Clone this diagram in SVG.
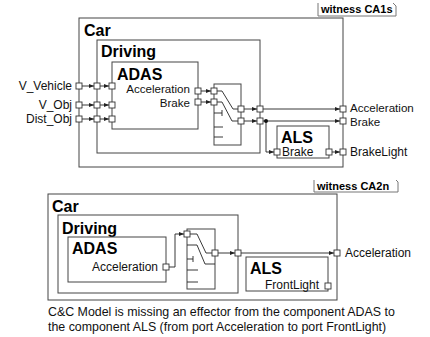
<svg xmlns="http://www.w3.org/2000/svg" width="430" height="337" viewBox="0 0 430 337">
<style>
.box{fill:none;stroke:#444;stroke-width:1}
.port{fill:#fff;stroke:#333;stroke-width:0.9}
.tag{fill:none;stroke:#777;stroke-width:1}
.title{font-family:"Liberation Sans",Arial,sans-serif;font-weight:bold;font-size:16px;fill:#000}
.wt{font-family:"Liberation Sans",Arial,sans-serif;font-weight:bold;font-size:11px;fill:#000}
.lbl{font-family:"Liberation Sans",Arial,sans-serif;font-size:12px;fill:#111}
.sm{font-size:11.6px}
.end{text-anchor:end}
.cap{font-family:"Liberation Sans",Arial,sans-serif;font-size:12.4px;fill:#111}
.wire{fill:none;stroke:#222;stroke-width:0.9}
.arr{marker-end:url(#ah)}
</style>
<defs>
<marker id="ah" markerWidth="5" markerHeight="4" refX="5" refY="2" orient="auto" markerUnits="userSpaceOnUse"><path d="M0,0 L5,2 L0,4 z" fill="#222"/></marker>
</defs>
<rect width="430" height="337" fill="#fff"/>

<g id="witness1">
<path class="tag" d="M318,3 V16 H396 V6 L393,3"/>
<text class="wt" x="321" y="13">witness CA1s</text>
</g>

<g id="car1">
<rect class="box" x="79" y="18" width="264" height="149"/>
<text class="title" x="84" y="36">Car</text>
<text class="lbl end" x="72" y="90">V_Vehicle</text>
<text class="lbl end" x="72" y="109">V_Obj</text>
<text class="lbl end" x="72" y="123">Dist_Obj</text>
<text class="lbl sm" x="350" y="112">Acceleration</text>
<text class="lbl sm" x="350" y="125.5">Brake</text>
<text class="lbl" x="350" y="156">BrakeLight</text>
</g>

<g id="driving1">
<rect class="box" x="97" y="40" width="163" height="113"/>
<text class="title" x="101" y="57">Driving</text>
</g>

<g id="adas1">
<rect class="box" x="112" y="62" width="86" height="67"/>
<text class="title" x="117" y="80">ADAS</text>
<text class="lbl sm end" x="190" y="93">Acceleration</text>
<text class="lbl sm end" x="190" y="106.5">Brake</text>
</g>

<g id="switch1">
<rect class="box" x="214" y="84" width="27" height="61"/>
<path class="wire" d="M217,91 H222 L233,109 H238 M217,102 H222 L232,121 H238 M214,113 H222 M222,110 V116 M214,127 H223 M214,137 H223"/>
</g>

<g id="als1">
<rect class="box" x="277" y="126" width="52" height="32"/>
<text class="title" x="281" y="143">ALS</text>
<text class="lbl" x="282" y="156">Brake</text>
</g>

<g id="connectors1">
<path class="wire arr" d="M82,86 H94"/>
<path class="wire arr" d="M100,86 H109"/>
<path class="wire arr" d="M82,105 H94"/>
<path class="wire arr" d="M100,105 H109"/>
<path class="wire arr" d="M82,119 H94"/>
<path class="wire arr" d="M100,119 H109"/>
<path class="wire arr" d="M201,91 H211"/>
<path class="wire arr" d="M201,102 H211"/>
<path class="wire arr" d="M244,109 H257"/>
<path class="wire arr" d="M244,121 H257"/>
<path class="wire arr" d="M263,109 H340"/>
<path class="wire arr" d="M263,121 H340"/>
<path class="wire arr" d="M266,121 V152 H274"/>
<path class="wire arr" d="M332,152 H340"/>
<circle cx="266" cy="121" r="2" fill="#111"/>
</g>

<g id="ports1">
<rect class="port" x="76" y="83" width="6" height="6"/>
<rect class="port" x="76" y="102" width="6" height="6"/>
<rect class="port" x="76" y="116" width="6" height="6"/>
<rect class="port" x="94" y="83" width="6" height="6"/>
<rect class="port" x="94" y="102" width="6" height="6"/>
<rect class="port" x="94" y="116" width="6" height="6"/>
<rect class="port" x="109" y="83" width="6" height="6"/>
<rect class="port" x="109" y="102" width="6" height="6"/>
<rect class="port" x="109" y="116" width="6" height="6"/>
<rect class="port" x="195" y="88" width="6" height="6"/>
<rect class="port" x="195" y="99" width="6" height="6"/>
<rect class="port" x="211" y="88" width="6" height="6"/>
<rect class="port" x="211" y="99" width="6" height="6"/>
<rect class="port" x="238" y="106" width="6" height="6"/>
<rect class="port" x="238" y="118" width="6" height="6"/>
<rect class="port" x="257" y="106" width="6" height="6"/>
<rect class="port" x="257" y="118" width="6" height="6"/>
<rect class="port" x="340" y="106" width="6" height="6"/>
<rect class="port" x="340" y="118" width="6" height="6"/>
<rect class="port" x="340" y="149" width="6" height="6"/>
<rect class="port" x="274" y="149" width="6" height="6"/>
<rect class="port" x="326" y="149" width="6" height="6"/>
</g>

<g id="witness2">
<path class="tag" d="M314,180 V192 H398 V182 L396,180"/>
<text class="wt" x="317" y="190">witness CA2n</text>
</g>

<g id="car2">
<rect class="box" x="48" y="194" width="289" height="106"/>
<text class="title" x="52" y="212">Car</text>
<text class="lbl" x="345" y="257">Acceleration</text>
</g>

<g id="driving2">
<rect class="box" x="58" y="215" width="180" height="78"/>
<text class="title" x="62" y="234">Driving</text>
</g>

<g id="adas2">
<rect class="box" x="68" y="237" width="98" height="45"/>
<text class="title" x="72" y="254">ADAS</text>
<text class="lbl end" x="158" y="271">Acceleration</text>
</g>

<g id="switch2">
<rect class="box" x="187" y="229" width="28" height="60"/>
<path class="wire" d="M190,234 H197 L206,253 H212 M187,245 H197 L205,264 H215 M187,259 H193 M193,256 V262 M187,270 H198 M187,282 H198"/>
</g>

<g id="als2">
<rect class="box" x="246" y="257" width="82" height="34"/>
<text class="title" x="250" y="274">ALS</text>
<text class="lbl end" x="319" y="289">FrontLight</text>
</g>

<g id="connectors2">
<path class="wire arr" d="M169,267 H175 V234 H184"/>
<path class="wire arr" d="M218,253 H235"/>
<path class="wire arr" d="M241,253 H334"/>
</g>

<g id="ports2">
<rect class="port" x="163" y="264" width="6" height="6"/>
<rect class="port" x="184" y="231" width="6" height="6"/>
<rect class="port" x="212" y="250" width="6" height="6"/>
<rect class="port" x="235" y="250" width="6" height="6"/>
<rect class="port" x="334" y="250" width="6" height="6"/>
<rect class="port" x="325" y="283" width="6" height="6"/>
</g>

<g id="caption">
<text class="cap" x="48" y="316">C&amp;C Model is missing an effector from the component ADAS to</text>
<text class="cap" x="48" y="331">the component ALS (from port Acceleration to port FrontLight)</text>
</g>
</svg>
